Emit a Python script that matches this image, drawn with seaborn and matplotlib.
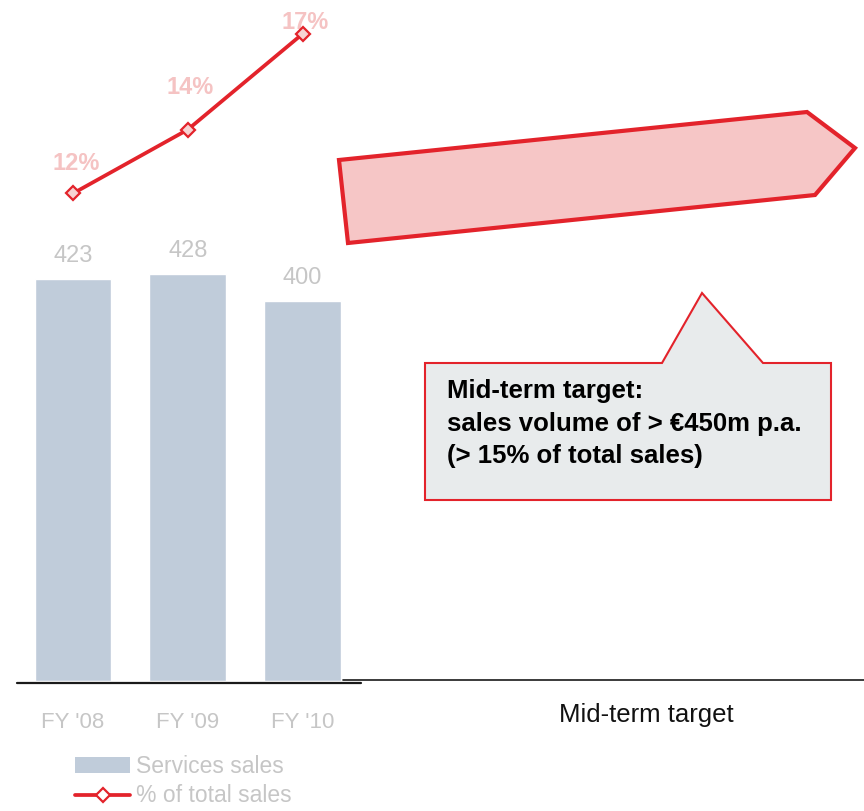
import numpy as np
import pandas as pd
import matplotlib
matplotlib.use("Agg")
import matplotlib.pyplot as plt
from matplotlib.patches import Polygon, Patch
from matplotlib.lines import Line2D
from matplotlib.transforms import Affine2D
import seaborn as sns

# ---- data -------------------------------------------------------------
years = ["FY '08", "FY '09", "FY '10"]
services_sales = [423, 428, 400]          # EUR m
share_of_total = [12, 14, 17]             # % of total sales
target_label = "Mid-term target"
callout_lines = ["Mid-term target:",
                 "sales volume of > \u20ac450m p.a.",
                 "(> 15% of total sales)"]
legend_labels = ["Services sales", "% of total sales"]

# ---- style ------------------------------------------------------------
sns.set_theme(style="white")
plt.rcParams["font.family"] = ["Liberation Sans", "DejaVu Sans"]

BAR = "#C0CCDA"
RED = "#E3232B"
PINK_TXT = "#F5C3C3"
GREY_TXT = "#C6C6C6"
ARROW_FILL = "#F6C6C6"
BOX_FILL = "#E8EBEC"

W, H = 864, 811
fig = plt.figure(figsize=(W / 100, H / 100), dpi=100)
fig.patch.set_facecolor("white")

# pixel-based transform (origin top-left) for the free-standing shapes
px = Affine2D().scale(1 / W, -1 / H).translate(0, 1) + fig.transFigure

base_px = 681
ax = fig.add_axes([0, (H - base_px) / H, 1, base_px / H])
ax.set_facecolor("none")

df = pd.DataFrame({"year": years, "sales": services_sales})
sns.barplot(data=df, x="year", y="sales", order=years, color=BAR,
            saturation=1, width=0.67, ax=ax, zorder=2)

step = 114.75
ax.set_xlim(-73 / step, (W - 73) / step)
ax.set_ylim(0, base_px / 0.95)
ax.set_xticks(range(len(years)))
ax.set_xticklabels(years)
ax.tick_params(axis="x", length=0, pad=22, labelsize=16, labelcolor=GREY_TXT)
ax.set_yticks([])
ax.set_xlabel("")
ax.set_ylabel("")
for s in ax.spines.values():
    s.set_visible(False)

# value labels above bars
for i, v in enumerate(services_sales):
    ax.annotate(str(v), (i, v), xytext=(0, 12.2), textcoords="offset points",
                ha="center", va="baseline", fontsize=17, color=GREY_TXT)

# baseline rules
ax.axhline(-1.6, xmin=17 / W, xmax=361 / W, color="#1a1a1a", lw=1.6, zorder=3,
           clip_on=False)
ax.axhline(1.0, xmin=343 / W, xmax=1.0, color="#1a1a1a", lw=1.2, zorder=3,
           clip_on=False)

# mid-term category label
ax.text(5, -41 / 0.95, target_label, ha="center", va="baseline",
        fontsize=18.5, color="#111111")

# ---- share of total sales line ---------------------------------------
ax2 = ax.twinx()
ax2.set_facecolor("none")
sns.lineplot(x=np.arange(len(share_of_total)), y=share_of_total, ax=ax2,
             color=RED, lw=2.7, marker="D", markersize=7,
             markerfacecolor="#F7D3D3", markeredgecolor=RED,
             markeredgewidth=1.6, zorder=4)
ax2.set_ylim(-3.285, 18.064)
ax2.set_yticks([])
ax2.set_ylabel("")
for s in ax2.spines.values():
    s.set_visible(False)

label_offsets = [16.9, 25.6, 3.5]   # points above each marker
for i, (v, off) in enumerate(zip(share_of_total, label_offsets)):
    ax2.annotate(f"{v}%", (i, v), xytext=(2, off), textcoords="offset points",
                 ha="center", va="baseline", fontsize=17, fontweight="bold",
                 color=PINK_TXT, annotation_clip=False)

# ---- growth arrow -----------------------------------------------------
arrow_shape = [(339, 160), (807, 112), (855, 148), (815, 195), (348, 243)]
fig.patches.append(Polygon(arrow_shape, closed=True, transform=px,
                           facecolor=ARROW_FILL, edgecolor=RED, lw=3,
                           joinstyle="miter", zorder=5))

# ---- callout box ------------------------------------------------------
callout_shape = [(425, 363), (662, 363), (702, 293), (763, 363),
                 (831, 363), (831, 500), (425, 500)]
fig.patches.append(Polygon(callout_shape, closed=True, transform=px,
                           facecolor=BOX_FILL, edgecolor=RED, lw=1.5,
                           joinstyle="miter", zorder=5))
for txt, yb in zip(callout_lines, [398, 431, 463]):
    fig.text(447 / W, 1 - yb / H, txt, ha="left", va="baseline",
             fontsize=18.5, fontweight="bold", color="black", zorder=6)

# ---- legend -----------------------------------------------------------
handles = [Patch(facecolor=BAR, edgecolor="none"),
           Line2D([], [], color=RED, lw=2.7, marker="D", markersize=7,
                  markerfacecolor="white", markeredgecolor=RED,
                  markeredgewidth=1.6)]
fig.legend(handles, legend_labels, loc="upper left",
           bbox_to_anchor=(75 / W, 1 - 755 / H), frameon=False, fontsize=16.5,
           labelcolor=GREY_TXT, handlelength=2.4, handleheight=0.66,
           handletextpad=0.25, labelspacing=0.28, borderpad=0,
           borderaxespad=0)

fig.savefig("out.png", dpi=100, facecolor="white")
